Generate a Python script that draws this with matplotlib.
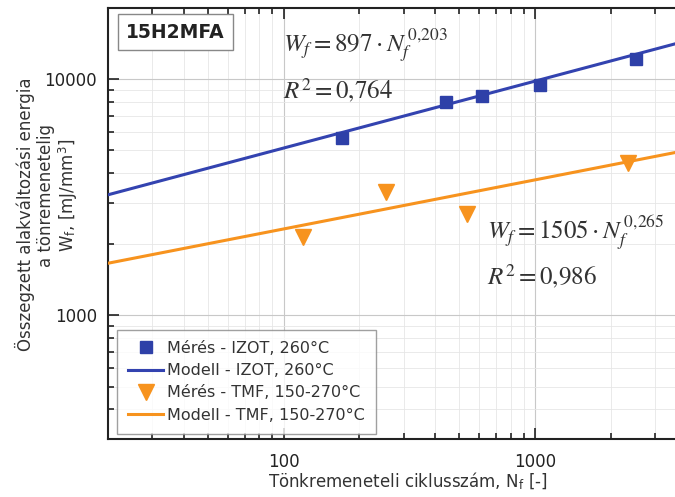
import matplotlib
matplotlib.use("Agg")
import matplotlib.pyplot as plt
from matplotlib.ticker import LogLocator, NullFormatter, FixedLocator, FixedFormatter

plt.rcParams['font.family'] = ['DejaVu Sans']
plt.rcParams['mathtext.fontset'] = 'stix'

# Data
izot_N = [170, 443, 617, 1047, 2518]
izot_W = [5610, 7980, 8470, 9430, 12170]
tmf_N = [119, 254, 537, 2339]
tmf_W = [2148, 3336, 2692, 4436]
model_N = [20, 3600]
izot_model_W = [3240, 14100]
tmf_model_W = [1663, 4890]

labels = ['Mérés - IZOT, 260°C', 'Modell - IZOT, 260°C',
          'Mérés - TMF, 150-270°C', 'Modell - TMF, 150-270°C']
xticks = [100, 1000]
xticklabels = ['100', '1000']
yticks = [1000, 10000]
yticklabels = ['1000', '10000']
ylabel_lines = ['Összegzett alakváltozási energia', 'a tönremenetelig',
                'W$_\\mathregular{f}$, [mJ/mm$^\\mathregular{3}$]']

blue = '#3343b0'
blue_m = '#2e40a8'
orange = '#f7931e'

fig = plt.figure(figsize=(6.75, 4.97), dpi=100)
ax = fig.add_axes([108/675, 58/497, 567/675, 431/497])
ax.set_xscale('log')
ax.set_yscale('log')
ax.set_xlim(20, 3600)
ax.set_ylim(300, 20000)

ax.grid(True, which='major', color='#c8c8c8', lw=0.8)
ax.grid(True, which='minor', color='#e6e6e6', lw=0.6)
ax.set_axisbelow(True)

h1, = ax.plot(izot_N, izot_W, 's', color=blue_m, ms=9, ls='none', zorder=4)
h2, = ax.plot(model_N, izot_model_W, '-', color=blue, lw=2.2, zorder=3)
h3, = ax.plot(tmf_N, tmf_W, 'v', color=orange, ms=11, ls='none', zorder=4)
h4, = ax.plot(model_N, tmf_model_W, '-', color=orange, lw=2.2, zorder=3)

ax.xaxis.set_major_locator(FixedLocator(xticks))
ax.xaxis.set_major_formatter(FixedFormatter(xticklabels))
ax.yaxis.set_major_locator(FixedLocator(yticks))
ax.yaxis.set_major_formatter(FixedFormatter(yticklabels))
ax.xaxis.set_minor_locator(LogLocator(base=10, subs=range(2, 10)))
ax.yaxis.set_minor_locator(LogLocator(base=10, subs=range(2, 10)))
ax.xaxis.set_minor_formatter(NullFormatter())
ax.yaxis.set_minor_formatter(NullFormatter())
ax.tick_params(which='both', direction='in', top=True, right=False,
               labelsize=12, colors='#222222', width=1.2)
ax.tick_params(which='major', length=8)
ax.tick_params(which='minor', length=4)
ax.tick_params(axis='x', pad=10)
ax.tick_params(axis='y', pad=8)
for s in ['left', 'bottom', 'top']:
    ax.spines[s].set_linewidth(1.5)
    ax.spines[s].set_color('#222222')
ax.spines['right'].set_visible(False)

ax.set_xlabel('Tönkremeneteli ciklusszám, N$_\\mathregular{f}$ [-]', fontsize=12, color='#333333')
ax.xaxis.set_label_coords((408-108)/567, -(470-439)/431)

for txt, xc, yc in zip(ylabel_lines, [25, 46, 68], [214, 196, 195]):
    fig.text(xc/675, 1 - yc/497, txt, rotation=90, ha='center', va='center',
             fontsize=12, color='#333333')

leg = ax.legend([h1, h2, h3, h4], labels, loc='lower left', bbox_to_anchor=(0.016, 0.012),
                fontsize=11.5, frameon=True, fancybox=False, edgecolor='#888888',
                handlelength=2.2, handletextpad=0.2, labelspacing=0.45, borderpad=0.7,
                borderaxespad=0)
leg.get_frame().set_linewidth(1.0)
for t in leg.get_texts():
    t.set_color('#333333')

ax.text((126-108)/567, 1 - (32-8)/431, '15H2MFA', transform=ax.transAxes, fontsize=13.5,
        fontweight='bold', ha='left', va='center', color='#222222',
        bbox=dict(boxstyle='square,pad=0.45', fc='white', ec='#888888', lw=1.0))

eq_kw = dict(fontsize=18, color='#333333', ha='left', va='center')
ax.text((283-108)/567, 1 - (46-8)/431, r'$W_f = 897\cdot N_f^{\,0{,}203}$', transform=ax.transAxes, **eq_kw)
ax.text((283-108)/567, 1 - (91-8)/431, r'$R^2 = 0{,}764$', transform=ax.transAxes, **eq_kw)
ax.text((487-108)/567, 1 - (233-8)/431, r'$W_f = 1505\cdot N_f^{\,0{,}265}$', transform=ax.transAxes, **eq_kw)
ax.text((487-108)/567, 1 - (277-8)/431, r'$R^2 = 0{,}986$', transform=ax.transAxes, **eq_kw)

fig.savefig('out.png', dpi=100)
